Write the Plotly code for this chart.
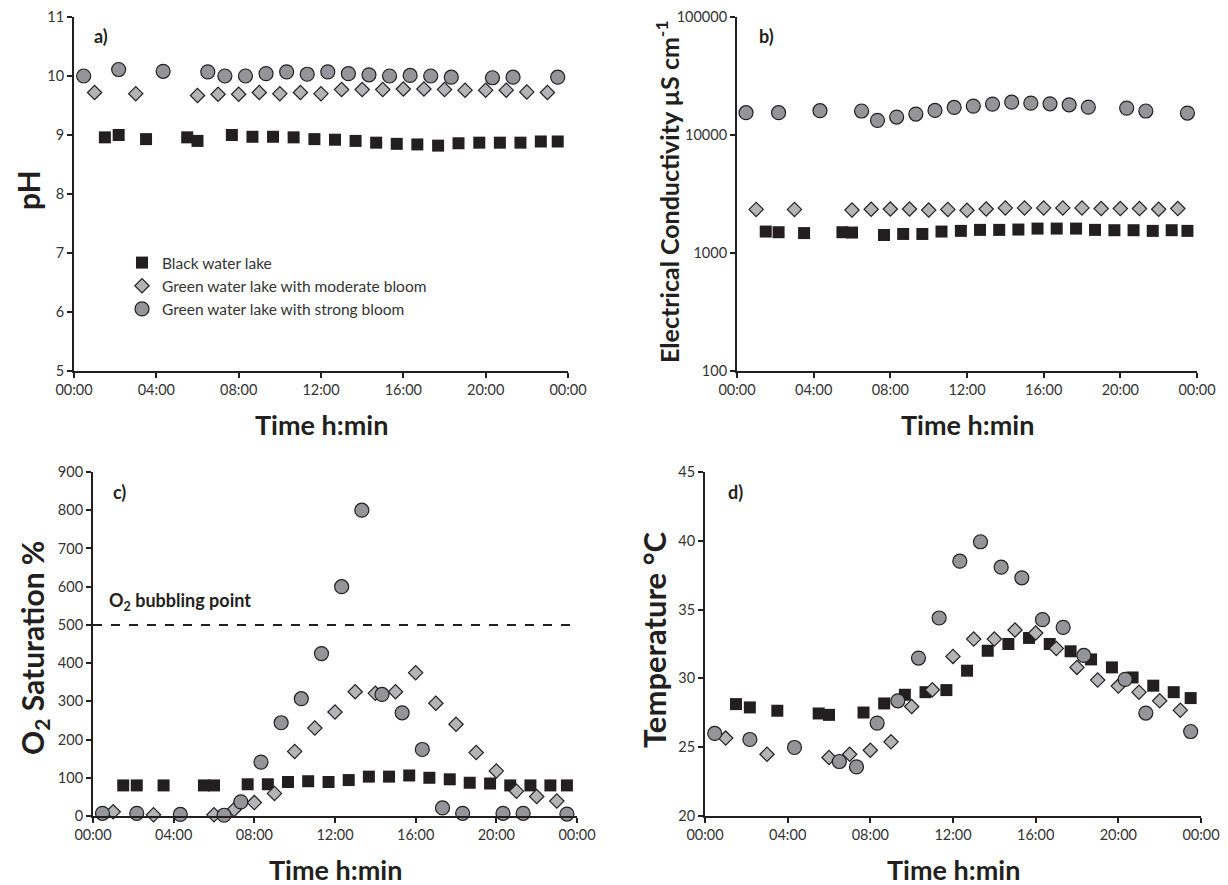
import plotly.graph_objects as go

W, H = 1228, 885
OFF = 8  # page body margin compensation (px)

# ---- times (hours) for each series ----
t_black = [1.5, 2.17, 3.5, 5.5, 6.0, 7.67, 8.67, 9.67, 10.67, 11.68, 12.68, 13.68,
           14.68, 15.68, 16.68, 17.69, 18.68, 19.69, 20.69, 21.69, 22.68, 23.5]
t_moderate = [1, 3, 6, 7, 8, 9, 10, 11, 12, 13, 14, 15, 16, 17, 18, 19, 20, 21, 22, 23]
t_strong = [0.47, 2.17, 4.33, 6.5, 7.33, 8.33, 9.33, 10.33, 11.33, 12.33, 13.33, 14.33,
            15.33, 16.33, 17.33, 18.33, 20.33, 21.33, 23.5]

# ---- a) pH ----
ph_black = [8.96, 9.0, 8.93, 8.96, 8.90, 9.0, 8.97, 8.97, 8.96, 8.93, 8.92, 8.90,
            8.87, 8.85, 8.84, 8.82, 8.86, 8.87, 8.87, 8.87, 8.89, 8.89]
ph_moderate = [9.72, 9.70, 9.67, 9.69, 9.69, 9.72, 9.70, 9.72, 9.70, 9.77, 9.77, 9.77,
               9.78, 9.78, 9.77, 9.76, 9.76, 9.76, 9.73, 9.72]
ph_strong = [10.0, 10.11, 10.08, 10.07, 10.0, 10.0, 10.04, 10.07, 10.03, 10.07, 10.04,
             10.02, 10.0, 10.01, 10.0, 9.98, 9.97, 9.98, 9.98]

# ---- b) Electrical conductivity ----
ec_black = [1520, 1500, 1475, 1500, 1490, 1420, 1450, 1450, 1520, 1540, 1570, 1570,
            1580, 1610, 1610, 1610, 1570, 1560, 1560, 1540, 1560, 1540]
ec_moderate = [2340, 2340, 2310, 2350, 2360, 2360, 2310, 2340, 2300, 2360, 2410, 2410,
               2410, 2410, 2410, 2380, 2380, 2380, 2350, 2380]
ec_strong = [15460, 15460, 16070, 15970, 13310, 14190, 15050, 16150, 17130, 17570,
             18270, 18980, 18620, 18370, 18020, 17220, 16900, 15970, 15350]

# ---- c) O2 saturation ----
o2_black = [80, 80, 80, 80, 80, 83, 83, 89, 91, 89, 94, 103, 103, 106, 100, 96, 87,
            85, 80, 80, 80, 80]
o2_moderate = [11, 3, 3, 17, 35, 59, 169, 230, 272, 325, 321, 325, 375, 295, 240, 166,
               118, 65, 51, 39]
o2_strong = [7, 7, 4, 2, 37, 141, 244, 307, 425, 600, 800, 318, 270, 174, 21, 7, 7, 7, 5]
o2_bubbling = 500

# ---- d) Temperature ----
temp_black = [28.13, 27.89, 27.65, 27.45, 27.35, 27.52, 28.18, 28.81, 29.0, 29.15,
              30.56, 32.01, 32.5, 32.94, 32.5, 31.97, 31.38, 30.8, 30.07, 29.47, 29.0, 28.57]
temp_moderate = [25.66, 24.49, 24.25, 24.49, 24.78, 25.39, 27.96, 29.17, 31.6, 32.86,
                 32.86, 33.52, 33.3, 32.18, 30.8, 29.88, 29.44, 29.0, 28.37, 27.69]
temp_strong = [26.0, 25.56, 24.98, 23.96, 23.57, 26.75, 28.37, 31.48, 34.39, 38.52,
               39.93, 38.08, 37.31, 34.27, 33.71, 31.67, 29.93, 27.48, 26.14]

tick_hours = [0, 4, 8, 12, 16, 20, 24]
tick_text = ["00:00", "04:00", "08:00", "12:00", "16:00", "20:00", "00:00"]

names = ["Black water lake", "Green water lake with moderate bloom",
         "Green water lake with strong bloom"]

FONT = "Lato, 'Open Sans', sans-serif"
DARK = "#231f20"

styles = [
    dict(symbol="square", size=12, color=DARK, line=dict(color=DARK, width=0)),
    dict(symbol="diamond", size=11, color="#b3b4b6", line=dict(color=DARK, width=1.2)),
    dict(symbol="circle", size=14, color="#939598", line=dict(color=DARK, width=1.2)),
]

# panel pixel boxes: (left, right, top, bottom)
boxes = {
    1: (74, 568, 17, 371),
    2: (737, 1197, 17, 371),
    3: (93, 577, 472, 816),
    4: (705, 1201, 472, 816),
}

def px(x):
    return (x - OFF) / W

def py(y):
    return 1 - (y - OFF) / H

fig = go.Figure()

panels = [
    (1, [ph_black, ph_moderate, ph_strong]),
    (2, [ec_black, ec_moderate, ec_strong]),
    (3, [o2_black, o2_moderate, o2_strong]),
    (4, [temp_black, temp_moderate, temp_strong]),
]
times = [t_black, t_moderate, t_strong]

for idx, series in panels:
    xa = "x" if idx == 1 else f"x{idx}"
    ya = "y" if idx == 1 else f"y{idx}"
    for k in range(3):
        fig.add_trace(go.Scatter(
            x=times[k], y=series[k], mode="markers", name=names[k],
            marker=styles[k], xaxis=xa, yaxis=ya,
            showlegend=(idx == 1), cliponaxis=False,
        ))

# bubbling point line
fig.add_trace(go.Scatter(
    x=[0, 24], y=[o2_bubbling, o2_bubbling], mode="lines",
    line=dict(color=DARK, width=2, dash="dash"), xaxis="x3", yaxis="y3",
    showlegend=False, hoverinfo="skip",
))

axis_common = dict(
    showline=True, linecolor=DARK, linewidth=2, ticks="outside", tickcolor=DARK,
    ticklen=5, tickwidth=1.5, showgrid=False, zeroline=False, automargin=False,
    ticklabeloverflow="allow",
    tickfont=dict(family=FONT, size=14.5, color="#333333"),
)

layout = dict(
    width=W, height=H, margin=dict(l=0, r=0, t=0, b=0),
    paper_bgcolor="white", plot_bgcolor="white",
    font=dict(family=FONT, color=DARK),
    legend=dict(
        x=px(122), y=py(246), xanchor="left", yanchor="top",
        font=dict(family=FONT, size=15.5, color="#333333"),
        bgcolor="rgba(0,0,0,0)", itemwidth=30, tracegroupgap=0,
    ),
)

yspecs = {
    1: dict(range=[5, 11], tickvals=[5, 6, 7, 8, 9, 10, 11]),
    2: dict(type="log", range=[2, 5], tickvals=[100, 1000, 10000, 100000],
            ticktext=["100", "1000", "10000", "100000"]),
    3: dict(range=[0, 900], tickvals=list(range(0, 901, 100))),
    4: dict(range=[20, 45], tickvals=[20, 25, 30, 35, 40, 45]),
}

for idx in range(1, 5):
    b = boxes[idx]
    xk = "xaxis" if idx == 1 else f"xaxis{idx}"
    yk = "yaxis" if idx == 1 else f"yaxis{idx}"
    layout[xk] = dict(axis_common, domain=[px(b[0]), px(b[1])], range=[0, 24],
                      tickvals=tick_hours, ticktext=tick_text,
                      anchor="y" if idx == 1 else f"y{idx}")
    layout[yk] = dict(axis_common, domain=[py(b[3]), py(b[2])], **yspecs[idx],
                      anchor="x" if idx == 1 else f"x{idx}")

fig.update_layout(**layout)

def ann(text, x, y, size, angle=0, bold=True, xanchor="center"):
    fig.add_annotation(
        text=f"<b>{text}</b>" if bold else text, x=px(x), y=py(y),
        xref="paper", yref="paper", showarrow=False, textangle=angle,
        xanchor=xanchor, yanchor="middle",
        font=dict(family=FONT, size=size, color=DARK),
    )

# axis titles
for idx in range(1, 5):
    b = boxes[idx]
    ann("Time h:min", (b[0] + b[1]) / 2, b[3] + 53, 27)
ann("pH", 28, 190, 30, angle=-90)
ann("Electrical Conductivity µS cm<sup>-1</sup>", 667, 192, 25, angle=-90)
ann("O<sub>2</sub> Saturation %", 34, 648, 30, angle=-90)
ann("Temperature °C", 654, 640, 31, angle=-90)

# panel labels
ann("a)", 92, 36, 18, xanchor="left")
ann("b)", 757, 36, 18, xanchor="left")
ann("c)", 111, 492, 18, xanchor="left")
ann("d)", 726, 492, 18, xanchor="left")

# bubbling point label
fig.add_annotation(
    text="<b>O<sub>2</sub> bubbling point</b>", x=0.7, y=o2_bubbling + 62,
    xref="x3", yref="y3", showarrow=False, xanchor="left", yanchor="middle",
    font=dict(family=FONT, size=18, color=DARK),
)

fig.write_html("out.html")
